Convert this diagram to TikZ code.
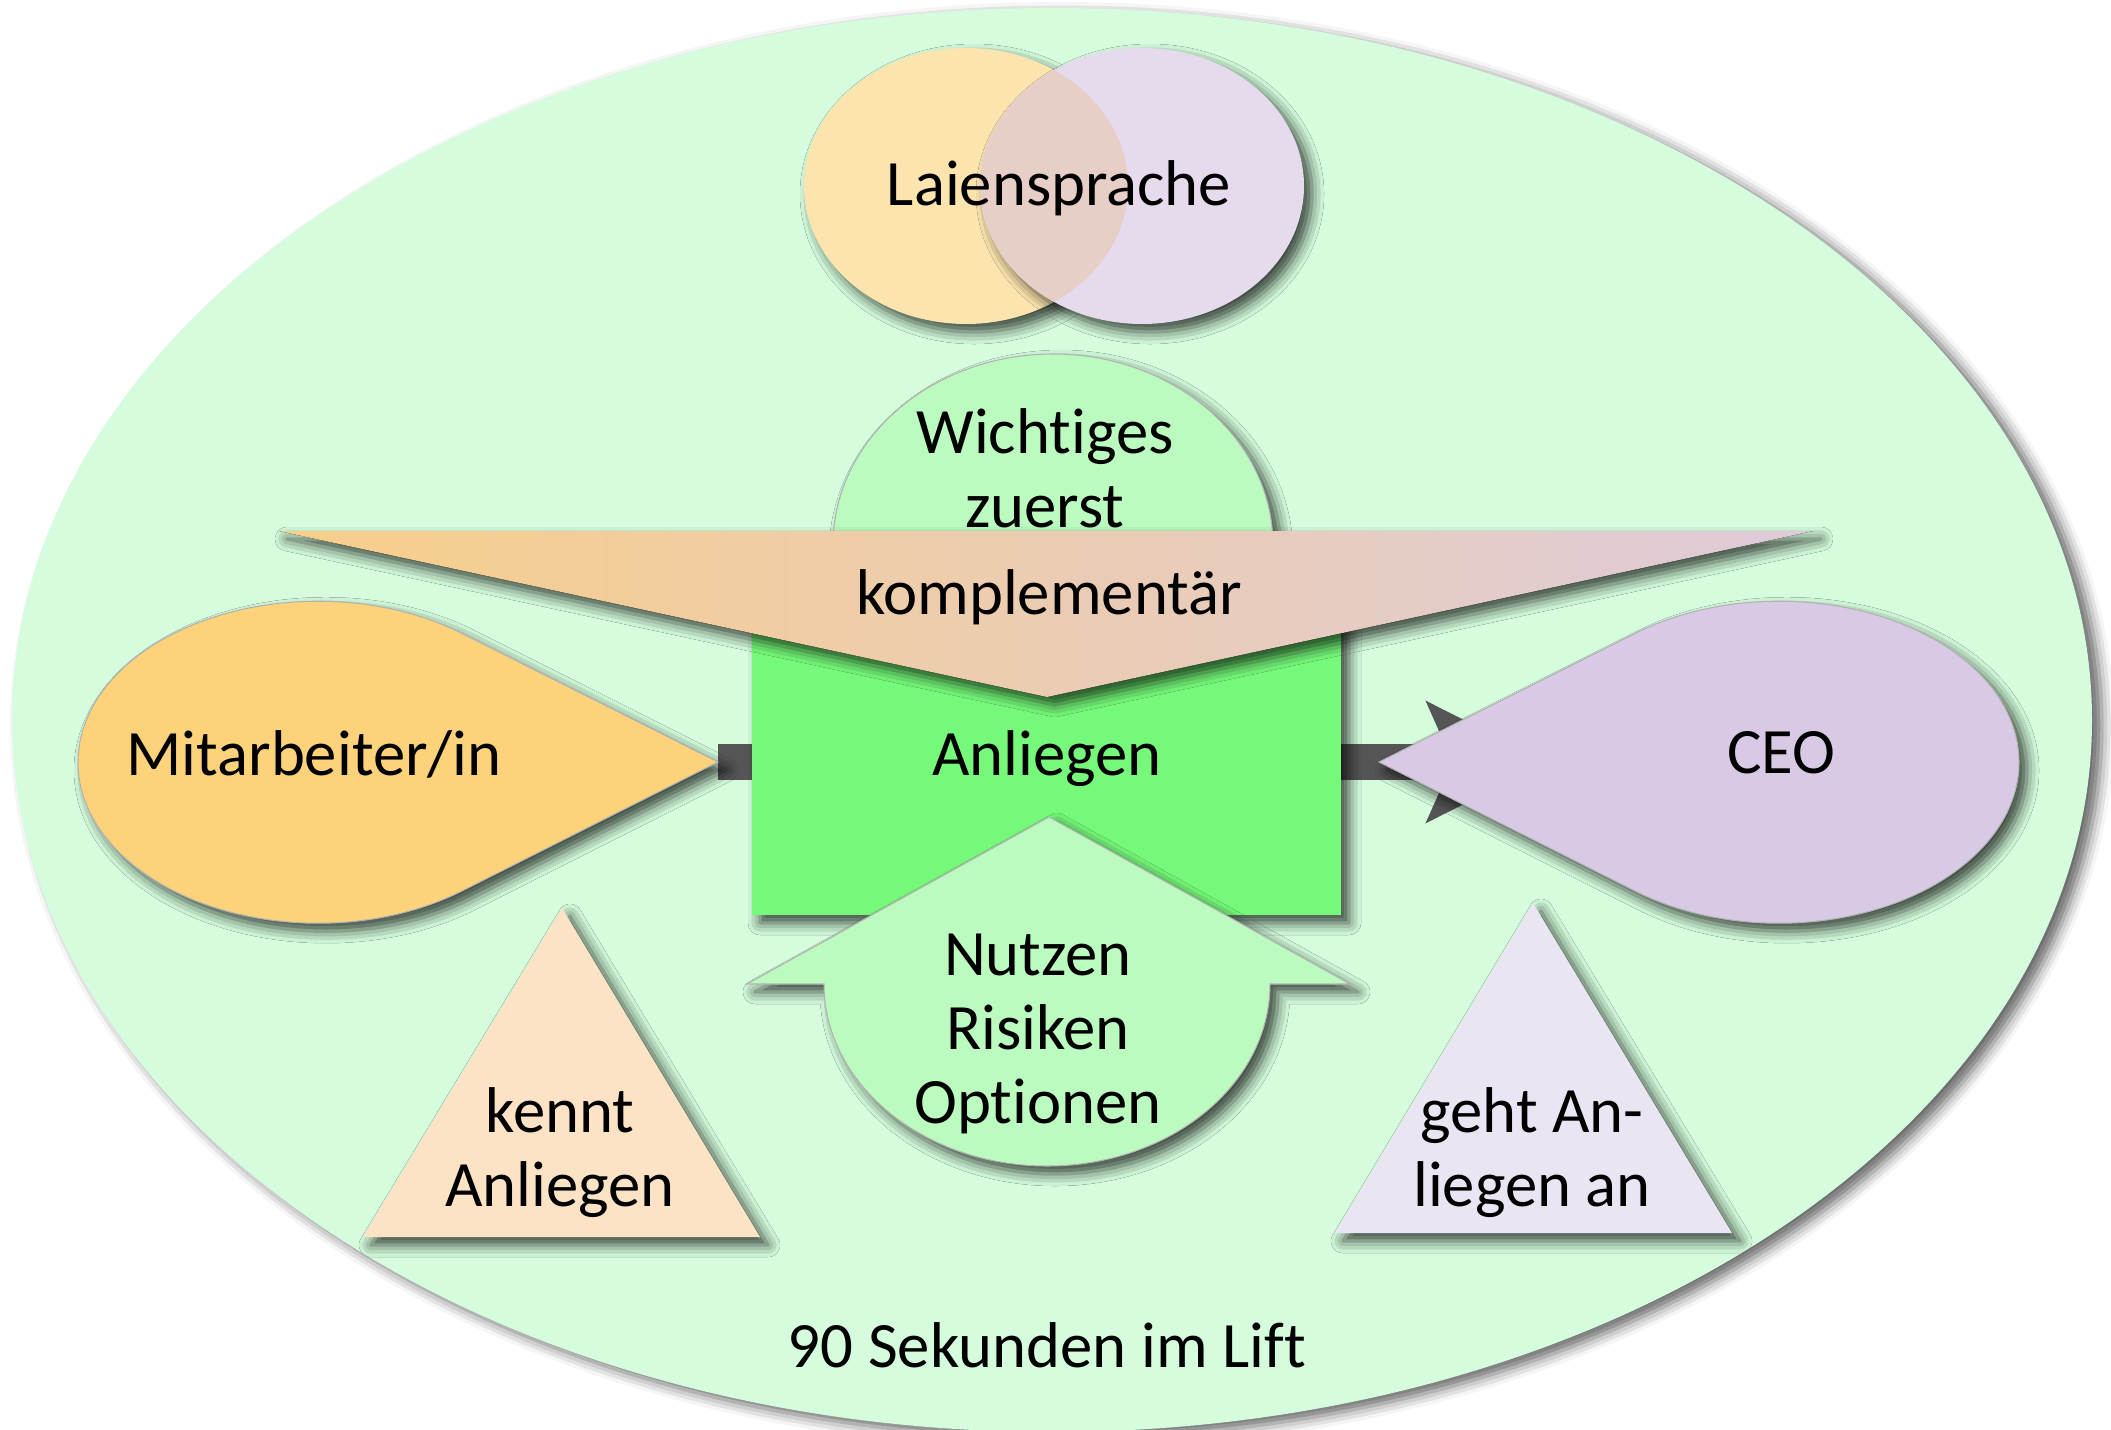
\documentclass[tikz,border=0pt]{standalone}
\usepackage{fontspec}
\setmainfont{Carlito}[Ligatures=NoCommon]
\usepackage{tikz}
\usetikzlibrary{arrows.meta,shadows.blur}
\definecolor{mint}{RGB}{212,252,221}
\definecolor{sandgelb}{RGB}{252,228,174}
\definecolor{flieder}{RGB}{230,218,237}
\definecolor{schnitt}{RGB}{231,206,198}
\definecolor{hellgruen}{RGB}{187,251,192}
\definecolor{gruen}{RGB}{118,249,122}
\definecolor{gelborange}{RGB}{252,210,122}
\definecolor{lila}{RGB}{216,202,228}
\definecolor{pfirsich}{RGB}{252,227,197}
\definecolor{hellila}{RGB}{234,229,242}
\definecolor{komplL}{RGB}{248,206,138}
\definecolor{komplR}{RGB}{222,203,218}
\definecolor{dunkelgrau}{RGB}{85,85,85}

\tikzset{
  schatten/.style={blur shadow={shadow xshift=0.08cm, shadow yshift=-0.08cm, shadow blur radius=0.12cm, shadow opacity=72}},
  rand/.style={draw=black!30, line width=0.3pt},
  beschriftung/.style={font=\fontsize{18.4}{21}\selectfont, align=center, inner sep=0pt},
  pfeil/.style={line width=0.36cm, dunkelgrau, -{Stealth[length=1.2cm, width=1.18cm, inset=0.25cm]}}
}

\begin{document}
\begin{tikzpicture}[x=0.01cm, y=-0.01cm]
    \useasboundingbox (0,0) rectangle (2111,1430);

    % Hintergrund
    \fill[mint, blur shadow={shadow xshift=0.1cm, shadow yshift=-0.06cm, shadow blur radius=0.12cm, shadow opacity=60}] (1052,720) ellipse [x radius=1040, y radius=712];

    % Laiensprache (zwei Kreise)
    \fill[sandgelb, schatten] (966,186) ellipse [x radius=162, y radius=138];
    \fill[flieder, schatten] (1142,186) ellipse [x radius=162, y radius=138];
    \begin{scope}
        \clip (966,186) ellipse [x radius=162, y radius=138];
        \fill[schnitt] (1142,186) ellipse [x radius=162, y radius=138];
    \end{scope}

    % Wichtiges zuerst (Bogen oben)
    \fill[hellgruen, schatten, rand] (833,620) -- (833,545) arc[start angle=180, end angle=360, x radius=220, y radius=191] -- (1273,620) -- cycle;

    % Pfeil von Mitarbeiter/in zu CEO
    \coordinate (mitspitze) at (718,762);
    \coordinate (ceospitze) at (1379,762);
    \coordinate (pfeilende) at (1548,762);
    \draw[pfeil] (mitspitze) -- (pfeilende);

    % Anliegen
    \fill[gruen, schatten] (752,600) rectangle (1341,915);

    % Nutzen (Pfeil nach oben)
    \fill[hellgruen, schatten, rand] (747,984) -- (1049,817) -- (1350,984) -- (1270,984) arc[start angle=0, end angle=180, x radius=223, y radius=182] -- cycle;

    % komplementaer
    \fill[left color=komplL, right color=komplR, schatten] (279,531) -- (1813,531) -- (1047,697) -- cycle;

    % Tropfen
    \fill[gelborange, schatten, rand] (mitspitze) -- (462,891) arc[start angle=53.13, end angle=306.87, x radius=240, y radius=161] -- cycle;
    \fill[lila, schatten, rand] (ceospitze) -- (1635,891) arc[start angle=126.87, end angle=-126.87, x radius=240, y radius=161] -- cycle;

    % Dreiecke
    \fill[pfirsich, schatten] (562,908) -- (760,1237) -- (363,1237) -- cycle;
    \fill[hellila, schatten] (1533,903) -- (1732,1233) -- (1335,1233) -- cycle;

    % Beschriftungen
    \node[beschriftung, anchor=base] (laien) at (1059,205) {Laiensprache};
    \node[beschriftung] (wichtig) at (1045,468) {Wichtiges\\zuerst};
    \node[beschriftung, anchor=base] (kompl) at (1049,614) {komplementär};
    \node[beschriftung, anchor=base] (mit) at (314,775) {Mitarbeiter/in};
    \node[beschriftung, anchor=base] (anliegen) at (1047,775) {Anliegen};
    \node[beschriftung, anchor=base] (ceo) at (1781,773) {CEO};
    \node[beschriftung] (nutzen) at (1038,1034) {Nutzen\\Risiken\\Optionen};
    \node[beschriftung] (kennt) at (560,1153) {kennt\\Anliegen};
    \node[beschriftung] (geht) at (1532,1153) {geht An-\\liegen an};
    \node[beschriftung, anchor=base] (lift) at (1047,1367) {90 Sekunden im Lift};
\end{tikzpicture}
\end{document}
